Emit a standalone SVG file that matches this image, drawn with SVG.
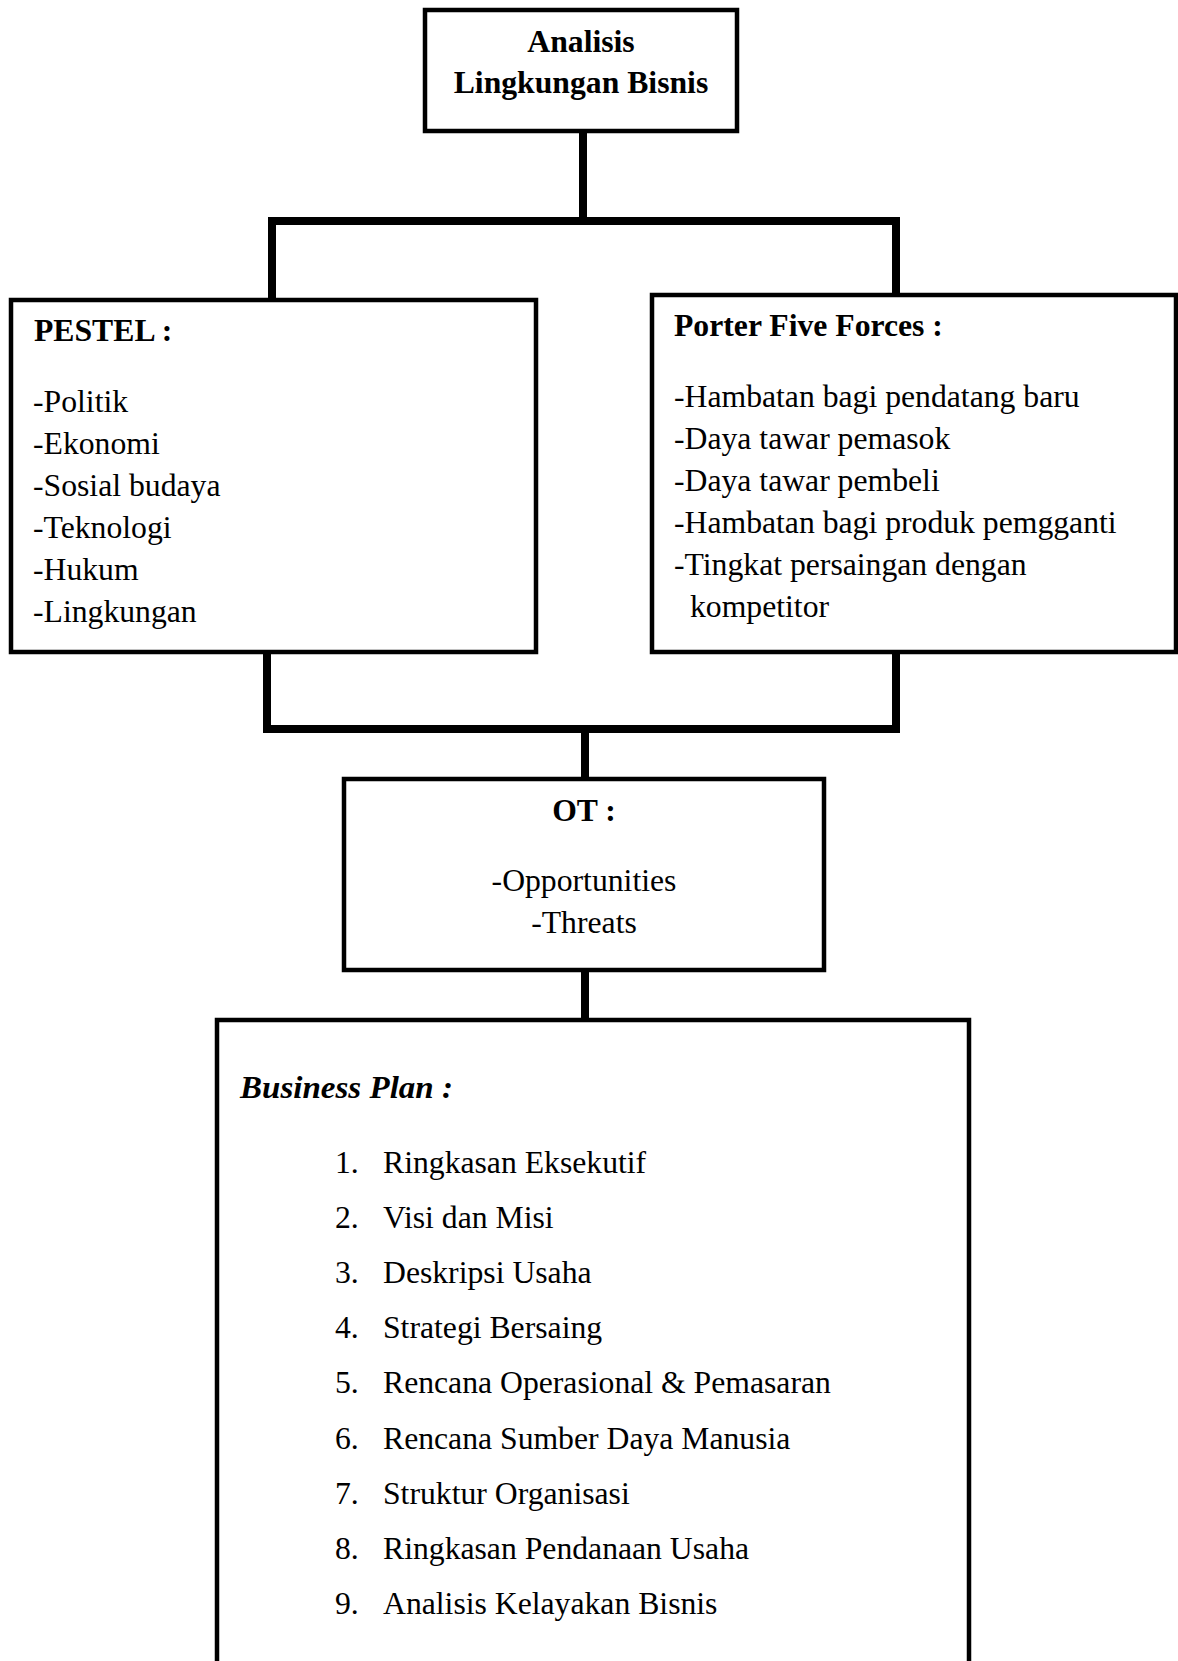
<svg xmlns="http://www.w3.org/2000/svg" width="1178" height="1661" viewBox="0 0 1178 1661">
<style>
.box{fill:#fff;stroke:#000;stroke-width:4.5}
.conn{fill:none;stroke:#000;stroke-width:8;stroke-linejoin:miter;stroke-linecap:square}
.t{font-family:"Liberation Serif","Times New Roman",serif;font-size:31.7px;fill:#000}
.b{font-weight:bold}
.c{text-anchor:middle}
.bi{font-family:"Liberation Serif","Times New Roman",serif;font-size:32px;font-weight:bold;font-style:italic;fill:#000}
</style>
<rect width="1178" height="1661" fill="#fff"/>
<g id="connectors">
<path class="conn" d="M583,133 V221"/>
<path class="conn" d="M272,297 V221 H896 V293"/>
<path class="conn" d="M267,654 V729 H896 V654"/>
<path class="conn" d="M585,729 V777"/>
<path class="conn" d="M585,972 V1018"/>
</g>
<g id="analisis">
<rect class="box" x="425" y="10" width="312" height="121"/>
<text class="t b c" x="581" y="52">Analisis</text>
<text class="t b c" x="581" y="93">Lingkungan Bisnis</text>
</g>
<g id="pestel">
<rect class="box" x="11" y="300" width="525" height="352"/>
<text class="t b" x="34" y="341">PESTEL :</text>
<text class="t" x="33" y="412">-Politik</text>
<text class="t" x="33" y="454">-Ekonomi</text>
<text class="t" x="33" y="496">-Sosial budaya</text>
<text class="t" x="33" y="538">-Teknologi</text>
<text class="t" x="33" y="580">-Hukum</text>
<text class="t" x="33" y="622">-Lingkungan</text>
</g>
<g id="porter">
<rect class="box" x="652" y="295" width="524" height="357"/>
<text class="t b" x="674" y="336">Porter Five Forces :</text>
<text class="t" x="674" y="407">-Hambatan bagi pendatang baru</text>
<text class="t" x="674" y="449">-Daya tawar pemasok</text>
<text class="t" x="674" y="491">-Daya tawar pembeli</text>
<text class="t" x="674" y="533">-Hambatan bagi produk pemgganti</text>
<text class="t" x="674" y="575">-Tingkat persaingan dengan</text>
<text class="t" x="690" y="617">kompetitor</text>
</g>
<g id="ot">
<rect class="box" x="344" y="779" width="480" height="191"/>
<text class="t b c" x="584" y="821">OT :</text>
<text class="t c" x="584" y="891">-Opportunities</text>
<text class="t c" x="584" y="933">-Threats</text>
</g>
<g id="business-plan">
<rect class="box" x="217" y="1020" width="752" height="700"/>
<text class="bi" x="240" y="1098" textLength="213" lengthAdjust="spacingAndGlyphs">Business Plan :</text>
<g class="t">
<text x="335" y="1173">1.</text><text x="383" y="1173">Ringkasan Eksekutif</text>
<text x="335" y="1228">2.</text><text x="383" y="1228">Visi dan Misi</text>
<text x="335" y="1283">3.</text><text x="383" y="1283">Deskripsi Usaha</text>
<text x="335" y="1338">4.</text><text x="383" y="1338">Strategi Bersaing</text>
<text x="335" y="1393">5.</text><text x="383" y="1393">Rencana Operasional &amp; Pemasaran</text>
<text x="335" y="1449">6.</text><text x="383" y="1449">Rencana Sumber Daya Manusia</text>
<text x="335" y="1504">7.</text><text x="383" y="1504">Struktur Organisasi</text>
<text x="335" y="1559">8.</text><text x="383" y="1559">Ringkasan Pendanaan Usaha</text>
<text x="335" y="1614">9.</text><text x="383" y="1614">Analisis Kelayakan Bisnis</text>
</g>
</g>
</svg>
